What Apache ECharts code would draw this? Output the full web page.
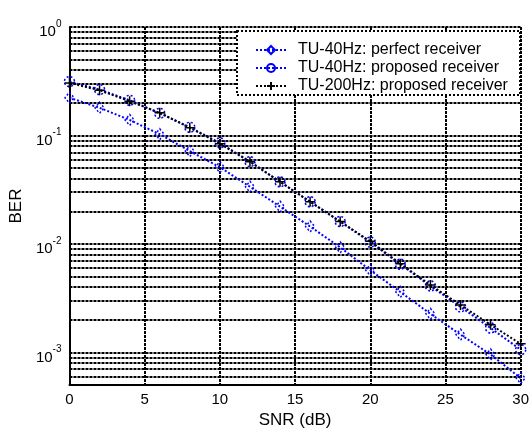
<!DOCTYPE html>
<html>
<head>
<meta charset="utf-8">
<script src="https://cdn.jsdelivr.net/npm/echarts@6/dist/echarts.min.js"></script>
<style>html,body{margin:0;padding:0;background:#fff;}#c{width:532px;height:434px;}</style>
</head>
<body>
<div id="c"></div>
<script>
const snr = [0, 2, 4, 6, 8, 10, 12, 14, 16, 18, 20, 22, 24, 26, 28, 30];
const perfect40 = [0.223, 0.180, 0.139, 0.1027, 0.0718, 0.0510, 0.0337, 0.0221, 0.01449, 0.0093, 0.00573, 0.00361, 0.00227, 0.00146, 0.000957, 0.00058];
const proposed40 = [0.314, 0.265, 0.211, 0.160, 0.119, 0.0853, 0.0574, 0.0374, 0.0245, 0.0161, 0.0104, 0.0065, 0.0041, 0.00263, 0.00168, 0.00106];
const proposed200 = [0.305, 0.261, 0.207, 0.162, 0.118, 0.0841, 0.0573, 0.0374, 0.0245, 0.0161, 0.01057, 0.00658, 0.00418, 0.00274, 0.00180, 0.00120];
const seriesNames = ['TU-40Hz: perfect receiver', 'TU-40Hz: proposed receiver', 'TU-200Hz: proposed receiver'];
const xTicks = [0, 5, 10, 15, 20, 25, 30];

const FONT = '"Liberation Sans", Arial, sans-serif';
const gridLine = { color: '#000', width: 2, type: [3, 1], opacity: 1 };

function pairs(ys) { return snr.map(function (x, i) { return [x, ys[i]]; }); }

const chart = echarts.init(document.getElementById('c'), null, { renderer: 'canvas' });
chart.setOption({
  animation: false,
  backgroundColor: '#fff',
  textStyle: { fontFamily: FONT, color: '#000' },
  grid: { left: 68, right: 8, top: 27, bottom: 47 },
  xAxis: {
    type: 'value', min: xTicks[0], max: xTicks[xTicks.length - 1], interval: 5,
    name: 'SNR (dB)', nameLocation: 'middle', nameGap: 20,
    nameTextStyle: { fontSize: 17, color: '#000', fontFamily: FONT },
    axisLine: { show: true, lineStyle: gridLine },
    axisTick: { show: false },
    axisLabel: { fontSize: 15, color: '#000', margin: 7, fontFamily: FONT },
    splitLine: { show: true, lineStyle: gridLine }
  },
  yAxis: {
    type: 'log', logBase: 10, min: 0.0005, max: 1,
    name: 'BER', nameLocation: 'middle', nameGap: 33,
    nameTextStyle: { fontSize: 17, color: '#000', fontFamily: FONT },
    axisLine: { show: true, lineStyle: gridLine },
    axisTick: { show: false },
    minorTick: { show: false, splitNumber: 9 },
    minorSplitLine: { show: true, lineStyle: gridLine },
    axisLabel: {
      margin: 8, color: '#000', fontFamily: FONT,
      formatter: function (v) {
        const e = Math.log10(v);
        if (Math.abs(e - Math.round(e)) > 1e-6) return '';
        return '{b|10}{e|' + Math.round(e) + '}';
      },
      rich: {
        b: { fontSize: 15, fontFamily: FONT, color: '#000', padding: [10, 0, 0, 0] },
        e: { fontSize: 10, fontFamily: FONT, color: '#000', padding: [0, 0, 6, 0] }
      }
    },
    splitLine: { show: true, lineStyle: gridLine }
  },
  legend: {
    orient: 'vertical', left: 250, top: 37, z: 20,
    itemWidth: 30, itemHeight: 10, itemGap: 2,
    textStyle: { fontSize: 16, lineHeight: 16, color: '#000', fontFamily: FONT, padding: [0, 0, 0, 7] },
    data: seriesNames
  },
  graphic: [{
    type: 'rect', z: 15, silent: true,
    shape: { x: 237, y: 31, width: 283, height: 64 },
    style: { fill: '#fff', stroke: '#000', lineWidth: 2, lineDash: [2, 2] }
  }],
  series: [
    {
      name: seriesNames[0], type: 'line', data: pairs(perfect40),
      symbol: 'diamond', symbolSize: [9, 11],
      lineStyle: { color: '#0000ff', width: 2, type: [2, 2] },
      itemStyle: { color: 'rgba(0,0,0,0)', borderColor: '#0000ff', borderWidth: 1.5, borderType: [2, 2] },
      z: 3
    },
    {
      name: seriesNames[1], type: 'line', data: pairs(proposed40),
      symbol: 'circle', symbolSize: 10,
      lineStyle: { color: '#0000ff', width: 2, type: [2, 2] },
      itemStyle: { color: 'rgba(0,0,0,0)', borderColor: '#0000ff', borderWidth: 1.5, borderType: [2, 2] },
      z: 4
    },
    {
      name: seriesNames[2], type: 'line', data: pairs(proposed200),
      symbol: 'path://M5,0L5,10M0,5L10,5', symbolSize: 10,
      lineStyle: { color: '#000', width: 2, type: [2, 2] },
      itemStyle: { color: 'rgba(0,0,0,0)', borderColor: '#000', borderWidth: 1.5 },
      z: 5
    }
  ]
});
</script>
</body>
</html>
